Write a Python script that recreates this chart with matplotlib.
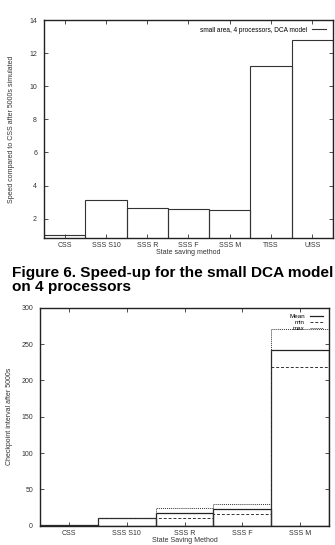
import numpy as np
import matplotlib
matplotlib.use("Agg")
import matplotlib.pyplot as plt

plt.rcParams["font.family"] = ["Liberation Sans", "DejaVu Sans"]

# ---------------------------------------------------------------------
# Data
# ---------------------------------------------------------------------
speed_methods = ["CSS", "SSS S10", "SSS R", "SSS F", "SSS M", "TISS", "UISS"]
speed_values = [1.0, 3.12, 2.65, 2.61, 2.53, 11.25, 12.77]

ckpt_methods = ["CSS", "SSS S10", "SSS R", "SSS F", "SSS M"]
ckpt_mean = [1.0, 10.0, 18.0, 23.4, 241.4]
ckpt_min = [1.0, 10.0, 10.6, 16.5, 218.4]
ckpt_max = [1.0, 10.0, 24.8, 30.3, 270.7]

caption = "Figure 6. Speed-up for the small DCA model\non 4 processors"


def style_axes(ax):
    for s in ax.spines.values():
        s.set_linewidth(1.0)
        s.set_color("#222222")
    ax.tick_params(direction="in", length=3, width=0.6, labelsize=5,
                   top=True, right=True, colors="#333333")
    ax.tick_params(axis="y", pad=5)
    ax.tick_params(axis="x", pad=3)


fig = plt.figure(figsize=(3.35, 5.45), dpi=100)

# ---------------------------------------------------------------------
# Top: speed-up
# ---------------------------------------------------------------------
ax1 = fig.add_axes([0.1313, 0.5633, 0.8627, 0.4])
x1 = np.arange(len(speed_methods))
ax1.bar(x1, speed_values, width=1.0, bottom=0, fill=False,
        edgecolor="#333333", linewidth=0.8)
ax1.set_xlim(-0.5, len(speed_methods) - 0.5)
ax1.set_ylim(0.83, 14)
ax1.set_yticks([2, 4, 6, 8, 10, 12, 14])
ax1.set_xticks(x1)
ax1.set_xticklabels(speed_methods)
ax1.set_xlabel("State saving method", fontsize=5, labelpad=0, color="#333333")
ax1.set_ylabel("Speed compared to CSS after 5000s simulated", fontsize=5,
               labelpad=10, color="#333333")
style_axes(ax1)
ax1.legend(loc="upper right", frameon=False, fontsize=4.7, markerfirst=False,
           handles=[plt.Line2D([], [], color="#333333", lw=0.8)],
           labels=["small area, 4 processors, DCA model"],
           handlelength=2.2, borderaxespad=0.6)

# caption
fig.text(0.036, 1 - 291 / 545, caption, fontsize=11.1, fontweight="bold",
         ha="left", va="baseline", linespacing=0.98)

# ---------------------------------------------------------------------
# Bottom: checkpoint interval
# ---------------------------------------------------------------------
ax2 = fig.add_axes([0.1194, 0.0354, 0.8627, 0.4])
x2 = np.arange(len(ckpt_methods))
ax2.bar(x2, ckpt_mean, width=1.0, fill=False, edgecolor="#222222",
        linewidth=0.9, linestyle="-")
ax2.bar(x2, ckpt_min, width=1.0, fill=False, edgecolor="#333333",
        linewidth=0.7, linestyle=(0, (3, 2)))
ax2.bar(x2, ckpt_max, width=1.0, fill=False, edgecolor="#333333",
        linewidth=0.7, linestyle=(0, (1, 1)))
ax2.set_xlim(-0.5, len(ckpt_methods) - 0.5)
ax2.set_ylim(0, 300)
ax2.set_yticks(range(0, 301, 50))
ax2.set_xticks(x2)
ax2.set_xticklabels(ckpt_methods)
ax2.set_xlabel("State Saving Method", fontsize=5, labelpad=0, color="#333333")
ax2.set_ylabel("Checkpoint interval after 5000s", fontsize=5, labelpad=6,
               color="#333333")
style_axes(ax2)
ax2.legend(handles=[plt.Line2D([], [], color="#222222", lw=0.9),
                    plt.Line2D([], [], color="#333333", lw=0.7, ls=(0, (3, 2))),
                    plt.Line2D([], [], color="#333333", lw=0.7, ls=(0, (1, 1)))],
           labels=["Mean", "min", "max"], loc="upper right", frameon=False,
           fontsize=4.5, markerfirst=False, handlelength=2.2,
           labelspacing=0.15, borderaxespad=0.5)

fig.savefig("out.png", dpi=100)
